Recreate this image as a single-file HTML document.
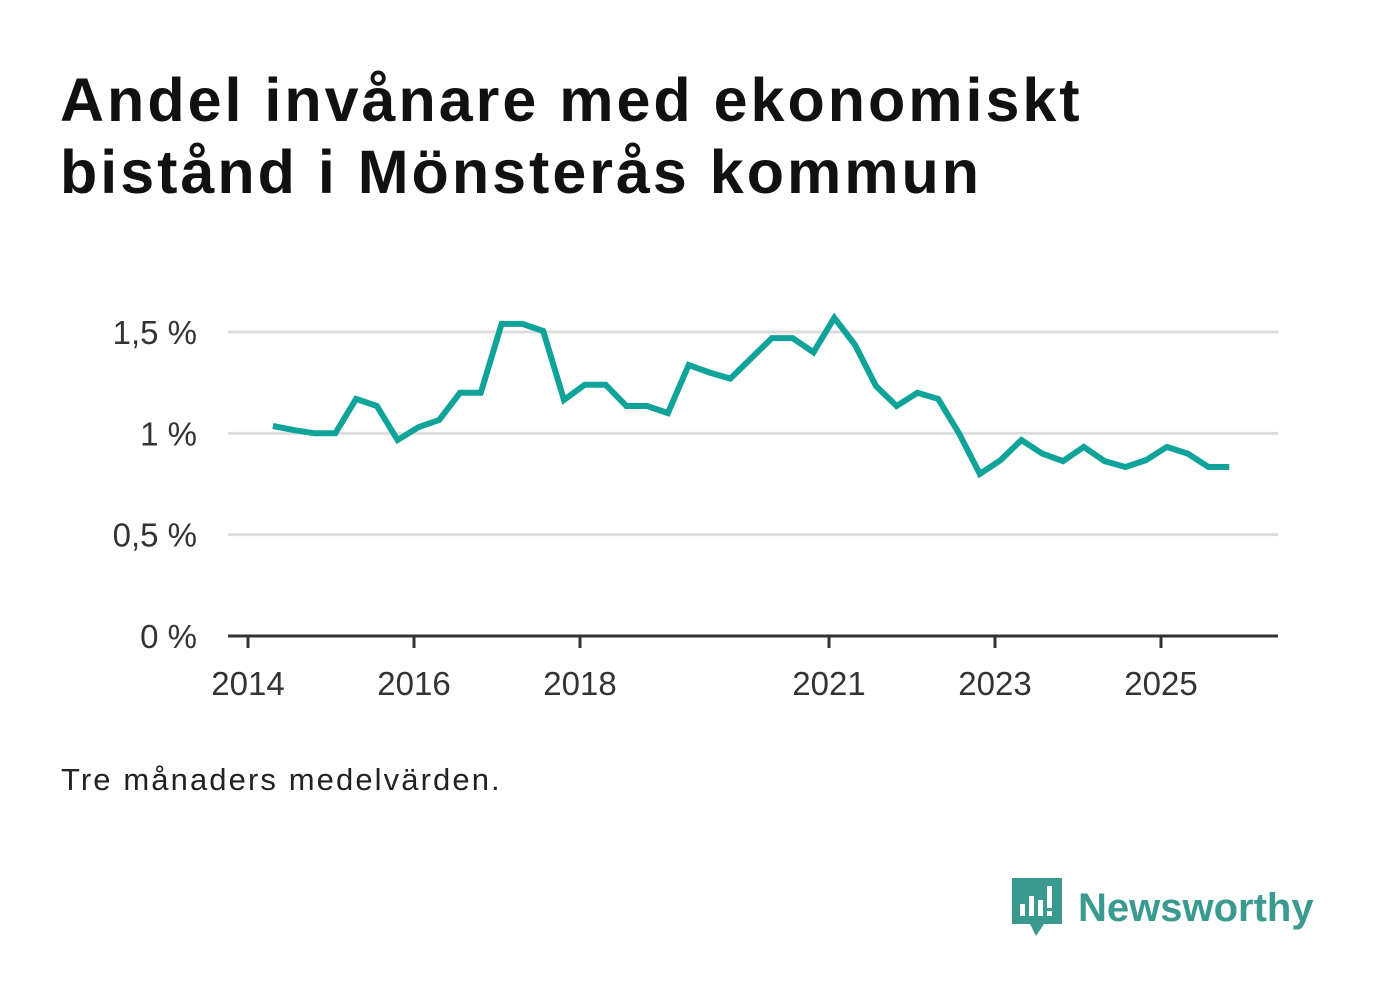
<!DOCTYPE html>
<html><head><meta charset="utf-8"><style>
body{margin:0;width:1382px;height:999px;background:#fff;font-family:"Liberation Sans",sans-serif;overflow:hidden;position:relative}
h1{position:absolute;left:60px;top:64px;margin:0;font-size:61px;line-height:72px;font-weight:bold;color:#111;letter-spacing:3px}
.note{position:absolute;left:61px;top:762px;font-size:31px;color:#222;letter-spacing:2.1px}
.logo{position:absolute;left:1012px;top:878px;display:flex;align-items:center}
.logo span{font-size:40px;font-weight:bold;color:#3a9a8f;margin-left:16px}
</style></head><body>
<h1>Andel invånare med ekonomiskt<br>bistånd i Mönsterås kommun</h1>
<svg id="chart" width="1382" height="999" style="position:absolute;left:0;top:0"></svg>
<div class="note">Tre månaders medelvärden.</div>
<div class="logo">
<svg width="50" height="60" viewBox="0 0 50 60"><path d="M0 0H50V46H32L24 58L18 46H0Z" fill="#3a9a8f"/><rect x="8" y="26" width="5" height="12" fill="#fff"/><rect x="17" y="18" width="5" height="20" fill="#fff"/><rect x="26" y="22" width="5" height="16" fill="#fff"/><rect x="35" y="8" width="5" height="22" fill="#fff"/><rect x="35" y="33" width="5" height="5" fill="#fff"/></svg>
<span>Newsworthy</span></div>
<script>
const startYear = 2014.3;
const stepYears = 0.2505;
const values = [1.036,1.016,1.0,1.0,1.17,1.135,0.967,1.03,1.066,1.2,1.2,1.54,1.54,1.505,1.165,1.24,1.24,1.135,1.135,1.10,1.337,1.30,1.27,1.37,1.47,1.47,1.40,1.57,1.436,1.234,1.135,1.20,1.17,1.0,0.80,0.868,0.967,0.90,0.863,0.933,0.863,0.834,0.868,0.933,0.90,0.834,0.834];
const yTicks = [0,0.5,1,1.5];
const yLabels = ["0 %","0,5 %","1 %","1,5 %"];
const xTicks = [2014,2016,2018,2021,2023,2025];
const svg = document.getElementById('chart');
const NS = 'http://www.w3.org/2000/svg';
const x = t => 248 + (t-2014)*83;
const y = v => 636 - v*202.67;
function mk(tag, attrs){const e=document.createElementNS(NS,tag);for(const k in attrs)e.setAttribute(k,attrs[k]);svg.appendChild(e);return e;}
yTicks.forEach((t,i)=>{
  if(t>0){const g=mk('line',{x1:228,x2:1278,y1:y(t),y2:y(t),stroke:'#ddd','stroke-width':3});
  
  }
  const l=mk('text',{x:197,y:y(t)+12,'text-anchor':'end','font-size':33,fill:'#333','font-family':'Liberation Sans, sans-serif'});
  l.textContent=yLabels[i];
  
  
});
const ax=mk('line',{x1:228,x2:1278,y1:636,y2:636,stroke:'#333','stroke-width':3});


xTicks.forEach(t=>{
  const tk=mk('line',{x1:x(t),x2:x(t),y1:636,y2:648,stroke:'#333','stroke-width':3});
  
  
  const l=mk('text',{x:x(t),y:695,'text-anchor':'middle','font-size':33,fill:'#333','font-family':'Liberation Sans, sans-serif'});
  l.textContent=t;
  
  
});
const pts=values.map((v,i)=>x(startYear+i*stepYears).toFixed(1)+','+y(v).toFixed(1)).join(' ');
const line=mk('polyline',{points:pts,fill:'none',stroke:'#10a399','stroke-width':6,'stroke-linejoin':'miter'});


</script>
</body></html>
